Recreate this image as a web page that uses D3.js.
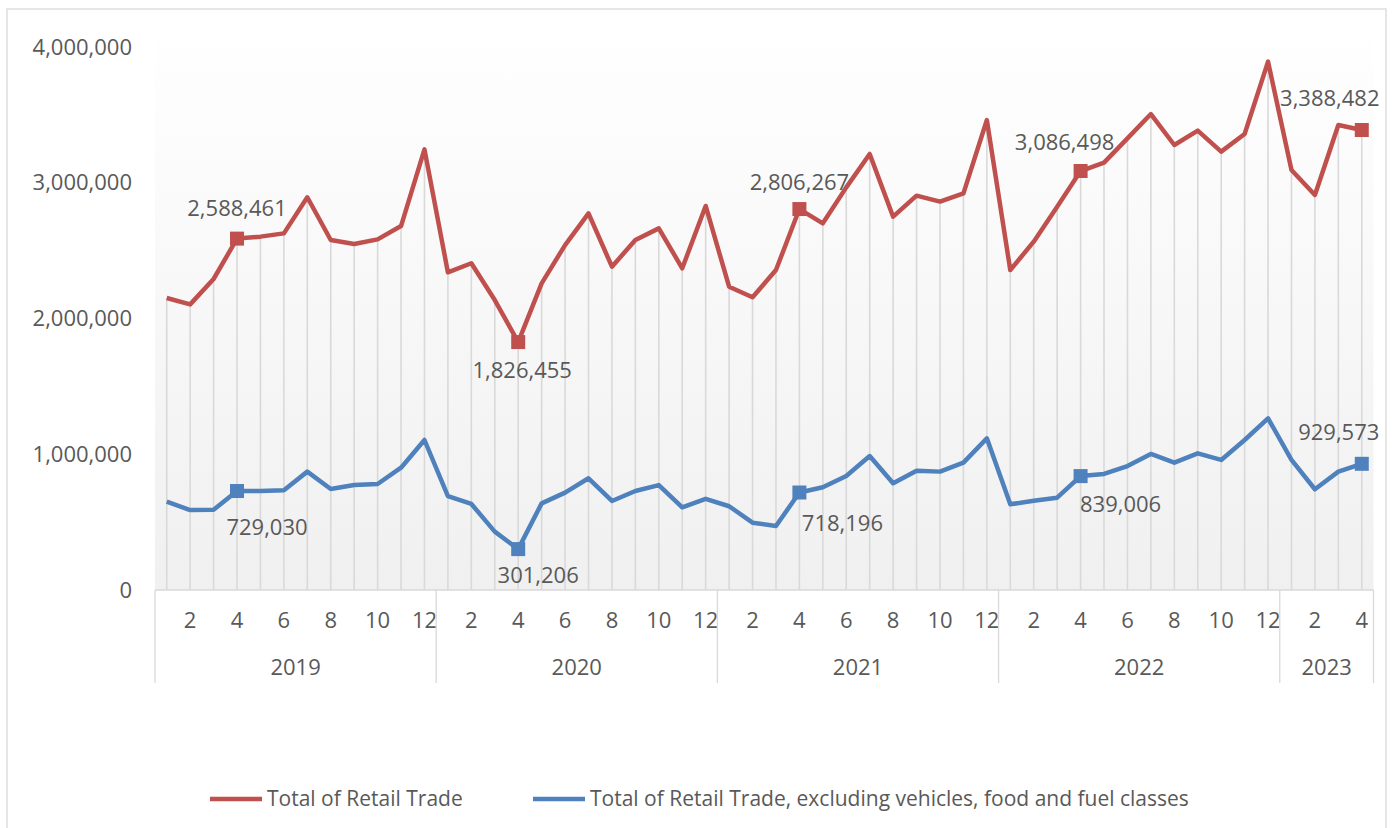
<!DOCTYPE html>
<html>
<head>
<meta charset="utf-8">
<script src="https://cdn.jsdelivr.net/npm/d3@7"></script>
<style>
  body { margin: 0; background: #fff; }
  text { font-family: 'Open Sans', sans-serif; fill: #595959; }
</style>
</head>
<body>
<div id="chart"></div>
<script>
// data (monthly, Jan 2019 - Apr 2023)
const years = [2019, 2020, 2021, 2022, 2023]
const monthsPerYear = [12, 12, 12, 12, 4]
const seriesNames = ['Total of Retail Trade', 'Total of Retail Trade, excluding vehicles, food and fuel classes']
const totalRetail = [
  2151000, 2104000, 2291000, 2588461, 2603000, 2627000, 2893000, 2578000, 2549000, 2583000, 2681000, 3246000,
  2340000, 2407000, 2136000, 1826455, 2259000, 2541000, 2775000, 2382000, 2578000, 2664000, 2370000, 2829000,
  2234000, 2156000, 2357000, 2806267, 2701000, 2966000, 3212000, 2750000, 2905000, 2861000, 2922000, 3462000,
  2357000, 2566000, 2824000, 3086498, 3148000, 3327000, 3506000, 3278000, 3384000, 3229000, 3359000, 3892000,
  3094000, 2910000, 3425000, 3388482
]
const retailExcl = [
  651000, 589000, 591000, 729030, 729000, 734000, 872000, 744000, 773000, 781000, 901000, 1105000,
  692000, 634000, 430000, 301206, 638000, 717000, 823000, 656000, 729000, 773000, 609000, 672000,
  617000, 496000, 471000, 718196, 757000, 840000, 987000, 786000, 879000, 872000, 938000, 1117000,
  631000, 658000, 680000, 839006, 855000, 913000, 1002000, 938000, 1007000, 958000, 1105000, 1265000,
  958000, 742000, 872000, 929573
]
const labelledIdx = [3, 15, 27, 39, 51]
const yTicks = [0, 1000000, 2000000, 3000000, 4000000]

// label nudges (layout only)
const redNudge = [[0, -30], [4, 28], [0, -27], [-16, -29], [-32, -32]]
const blueNudge = [[30, 36], [20, 26], [43, 31], [40, 28], [-23, -32]]

const W = 1400, H = 828
const plot = { left: 155, right: 1373.5, top: 22, bottom: 590 }
const colors = ['#C0504D', '#4F81BD']
const fontSize = '22px'

const svg = d3.select('#chart').append('svg')
  .attr('width', W).attr('height', H)

// outer chart border
svg.append('rect')
  .attr('x', 7).attr('y', 9).attr('width', 1379).attr('height', 830)
  .attr('fill', '#fff').attr('stroke', '#d9d9d9').attr('stroke-width', 1.3)

// plot background gradient
const grad = svg.append('defs').append('linearGradient')
  .attr('id', 'bg').attr('x1', 0).attr('y1', 0).attr('x2', 0).attr('y2', 1)
grad.append('stop').attr('offset', '0%').attr('stop-color', '#ffffff')
grad.append('stop').attr('offset', '100%').attr('stop-color', '#f0f0f0')
svg.append('rect')
  .attr('x', plot.left).attr('y', plot.top)
  .attr('width', plot.right - plot.left).attr('height', plot.bottom - plot.top)
  .attr('fill', 'url(#bg)')

const n = totalRetail.length
const x = d3.scaleBand()
  .domain(d3.range(n))
  .range([plot.left, plot.right])
const cx = i => x(i) + x.bandwidth() / 2

const y = d3.scaleLinear()
  .domain([0, 4000000])
  .range([590, 47])

const fmt = d3.format(',')

// y tick labels
svg.append('g').selectAll('text')
  .data(yTicks)
  .join('text')
  .attr('x', 132)
  .attr('y', d => y(d))
  .attr('dy', '0.35em')
  .attr('text-anchor', 'end')
  .style('font-size', fontSize)
  .text(d => fmt(d))

// drop lines
svg.append('g').selectAll('line')
  .data(d3.range(n))
  .join('line')
  .attr('x1', cx).attr('x2', cx)
  .attr('y1', i => y(Math.max(totalRetail[i], retailExcl[i])))
  .attr('y2', y(0))
  .attr('stroke', '#d9d9d9')
  .attr('stroke-width', 1.6)

// category axis (months + years)
const axisG = svg.append('g')
axisG.append('line')
  .attr('x1', plot.left).attr('x2', plot.right)
  .attr('y1', y(0)).attr('y2', y(0))
  .attr('stroke', '#d9d9d9').attr('stroke-width', 1.3)

const monthCats = []
years.forEach((yr, k) => {
  for (let m = 1; m <= monthsPerYear[k]; m++) monthCats.push({ year: yr, month: m })
})
axisG.selectAll('text.month')
  .data(monthCats.map((d, i) => ({ ...d, i })).filter(d => d.month % 2 === 0))
  .join('text')
  .attr('class', 'month')
  .attr('x', d => cx(d.i))
  .attr('y', 620)
  .attr('dy', '0.35em')
  .attr('text-anchor', 'middle')
  .style('font-size', fontSize)
  .text(d => d.month)

const yearStarts = d3.cumsum([0].concat(monthsPerYear))
axisG.selectAll('line.sep')
  .data(yearStarts)
  .join('line')
  .attr('class', 'sep')
  .attr('x1', d => d < n ? x(d) : plot.right)
  .attr('x2', d => d < n ? x(d) : plot.right)
  .attr('y1', y(0)).attr('y2', 683)
  .attr('stroke', '#d9d9d9').attr('stroke-width', 1.3)

axisG.selectAll('text.year')
  .data(years)
  .join('text')
  .attr('class', 'year')
  .attr('x', (d, k) => {
    const a = x(yearStarts[k])
    const b = yearStarts[k + 1] < n ? x(yearStarts[k + 1]) : plot.right
    return (a + b) / 2
  })
  .attr('y', 667)
  .attr('dy', '0.35em')
  .attr('text-anchor', 'middle')
  .style('font-size', fontSize)
  .text(d => d)

// lines
const line = d3.line().x((d, i) => cx(i)).y(d => y(d))
;[totalRetail, retailExcl].forEach((s, k) => {
  svg.append('path')
    .datum(s)
    .attr('fill', 'none')
    .attr('stroke', colors[k])
    .attr('stroke-width', 4.5)
    .attr('stroke-linejoin', 'round')
    .attr('d', line)
})

// markers and data labels
const ms = 14
;[[totalRetail, redNudge], [retailExcl, blueNudge]].forEach(([s, nudge], k) => {
  const g = svg.append('g')
  g.selectAll('rect')
    .data(labelledIdx)
    .join('rect')
    .attr('x', i => cx(i) - ms / 2)
    .attr('y', i => y(s[i]) - ms / 2)
    .attr('width', ms).attr('height', ms)
    .attr('fill', colors[k])
  g.selectAll('text')
    .data(labelledIdx)
    .join('text')
    .attr('x', (i, j) => cx(i) + nudge[j][0])
    .attr('y', (i, j) => y(s[i]) + nudge[j][1])
    .attr('dy', '0.35em')
    .attr('text-anchor', 'middle')
    .style('font-size', fontSize)
    .text(i => fmt(s[i]))
})

// legend
const legend = svg.append('g').attr('transform', 'translate(0,799)')
const legendX = [210, 533]
seriesNames.forEach((name, k) => {
  legend.append('line')
    .attr('x1', legendX[k]).attr('x2', legendX[k] + 52)
    .attr('y1', 0).attr('y2', 0)
    .attr('stroke', colors[k]).attr('stroke-width', 4.5)
  legend.append('text')
    .attr('x', legendX[k] + 57)
    .attr('y', 0)
    .attr('dy', '0.35em')
    .style('font-size', '21px')
    .text(name)
})
</script>
</body>
</html>
